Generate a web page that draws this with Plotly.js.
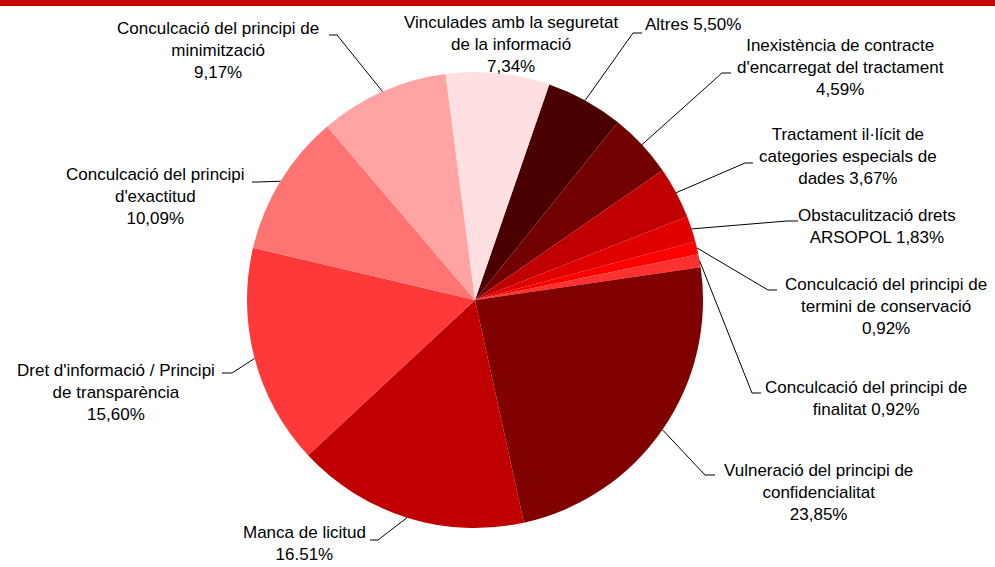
<!DOCTYPE html>
<html>
<head>
<meta charset="utf-8">
<script src="https://cdn.plot.ly/plotly-3.0.1.min.js"></script>
<style>html,body{margin:0;padding:0;background:#fff}#chart{width:995px;height:567px}</style>
</head>
<body>
<div id="chart"></div>
<script>
// ---- data ----
const categories = [
  "Altres",
  "Inexistència de contracte d'encarregat del tractament",
  "Tractament il·lícit de categories especials de dades",
  "Obstaculització drets ARSOPOL",
  "Conculcació del principi de termini de conservació",
  "Conculcació del principi de finalitat",
  "Vulneració del principi de confidencialitat",
  "Manca de licitud",
  "Dret d'informació / Principi de transparència",
  "Conculcació del principi d'exactitud",
  "Conculcació del principi de minimització",
  "Vinculades amb la seguretat de la informació"
];
const values = [5.50, 4.59, 3.67, 1.83, 0.92, 0.92, 23.85, 16.51, 15.60, 10.09, 9.17, 7.34];
const labelTexts = [
  "Altres 5,50%",
  "Inexistència de contracte<br>d'encarregat del tractament<br>4,59%",
  "Tractament il·lícit de<br>categories especials de<br>dades 3,67%",
  "Obstaculització drets<br>ARSOPOL 1,83%",
  "Conculcació del principi de<br>termini de conservació<br>0,92%",
  "Conculcació del principi de<br>finalitat 0,92%",
  "Vulneració del principi de<br>confidencialitat<br>23,85%",
  "Manca de licitud<br>16.51%",
  "Dret d'informació / Principi<br>de transparència<br>15,60%",
  "Conculcació del principi<br>d'exactitud<br>10,09%",
  "Conculcació del principi de<br>minimització<br>9,17%",
  "Vinculades amb la seguretat<br>de la informació<br>7,34%"
];
const colors = ["#4a0000","#730000","#c00000","#e00000","#ff0000","#ff3030",
                "#800000","#c00000","#ff3939","#ff7373","#ffa3a3","#ffe0e2"];

// ---- layout constants (pixels) ----
const W = 995, H = 567;
const CX = 475, CY = 300, R = 228, ROT = 19;
const labelPos = [[693,24],[840,67],[848,157],[877,226],[886,306],[866,398],
                  [818,492],[304,543],[116,392],[155,197],[218,50],[511,44]];
const leaderElbow = [[633,33],[722,73],[745,163],[787,221],[768,290],[752,393],
                     [705,475],[378,540],[232,373],[258,182],[337,35],null];
const leaderEnd = [[642,33],[731,73],[753,163],[798,221],[777,290],[761,393],
                   [715,475],[370,540],[222,373],[252,182],[329,35],null];

const px = x => x / W, py = y => 1 - y / H;

const total = values.reduce((a,b)=>a+b,0);
let cum = 0;
const shapes = [{type:'rect', xref:'paper', yref:'paper', x0:0, x1:1, y0:py(6), y1:1,
                 fillcolor:'#c40000', line:{width:0}}];
const annotations = [];
values.forEach((v,i) => {
  const mid = (ROT + (cum + v/2)/total*360) * Math.PI/180;
  cum += v;
  const ex = CX + R*Math.sin(mid), ey = CY - R*Math.cos(mid);
  if (leaderElbow[i]) {
    const el = leaderElbow[i], en = leaderEnd[i];
    shapes.push({type:'path', xref:'paper', yref:'paper',
      path:`M ${px(ex)},${py(ey)} L ${px(el[0])},${py(el[1])} L ${px(en[0])},${py(en[1])}`,
      line:{color:'#000', width:1}});
  }
  annotations.push({xref:'paper', yref:'paper', x:px(labelPos[i][0]), y:py(labelPos[i][1]),
    xanchor:'center', yanchor:'middle', align:'center', showarrow:false,
    text:labelTexts[i], font:{family:'Liberation Sans, Arial, sans-serif', size:17, color:'#000'}});
});

const trace = {
  type:'pie', labels:categories, values:values, sort:false, direction:'clockwise',
  rotation:ROT, textinfo:'none', hoverinfo:'label+percent',
  marker:{colors:colors, line:{width:0}},
  domain:{x:[px(CX-R), px(CX+R)], y:[py(CY+R), py(CY-R)]}
};

Plotly.newPlot('chart', [trace], {
  width:W, height:H, margin:{l:0,r:0,t:0,b:0}, showlegend:false,
  paper_bgcolor:'#fff', shapes:shapes, annotations:annotations
}, {displayModeBar:false, staticPlot:false});
</script>
</body>
</html>
